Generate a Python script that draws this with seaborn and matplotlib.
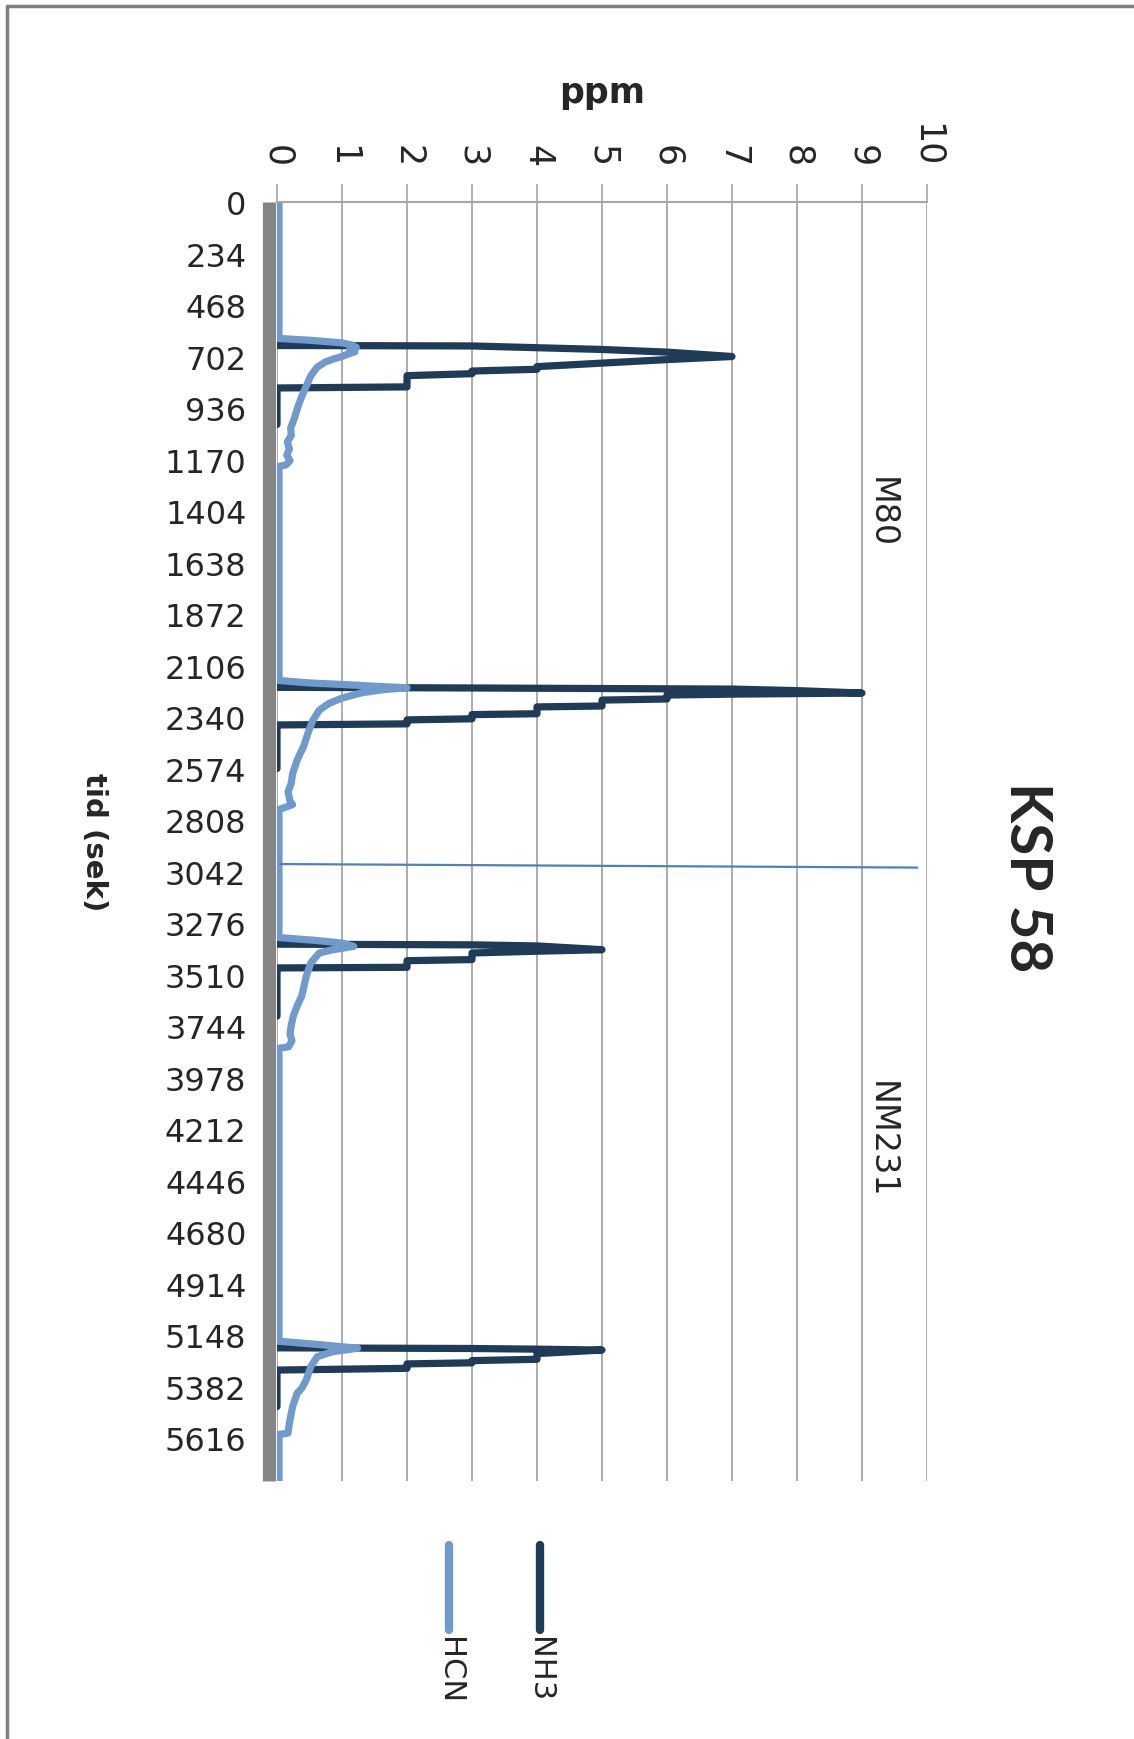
import matplotlib
matplotlib.use("Agg")
import matplotlib.pyplot as plt
from matplotlib.lines import Line2D
import pandas as pd
import seaborn as sns

# ---- data -------------------------------------------------------------
# NH3 bursts (separate measurement windows around each test)
nh3_burst = [1] * 16 + [2] * 18 + [3] * 11 + [4] * 12
nh3_time = [652, 654, 662, 670, 682, 702, 716, 732, 748, 760, 768, 780, 789, 840, 845, 1011,
            2205, 2208, 2213, 2220, 2231, 2236, 2240, 2258, 2263, 2290, 2294, 2325, 2329, 2348,
            2353, 2371, 2376, 2574,
            3372, 3375, 3380, 3397, 3404, 3412, 3442, 3447, 3477, 3480, 3699,
            5206, 5209, 5212, 5216, 5232, 5258, 5264, 5274, 5279, 5299, 5307, 5473]
nh3_ppm = [0, 3, 4, 5, 6, 7, 6, 5, 4, 4, 3, 3, 2, 2, 0, 0,
           0, 3, 7, 8, 9, 7, 6, 6, 5, 5, 4, 4, 3, 3, 2, 2, 0, 0,
           0, 3, 4, 5, 4, 3, 3, 2, 2, 0, 0,
           0, 3, 4, 5, 4, 4, 3, 3, 2, 2, 0, 0]

hcn_time = [0, 620, 628, 640, 650, 660, 670, 680, 692, 702, 712, 726, 750, 789, 837, 884, 932,
            980, 1027, 1060, 1090, 1122, 1150, 1175, 1194, 1202,
            2174, 2185, 2192, 2200, 2207, 2215, 2230, 2254, 2278, 2309, 2356, 2410, 2473, 2535,
            2597, 2640, 2680, 2722, 2738, 2753, 2760,
            3342, 3355, 3367, 3382, 3397, 3412, 3457, 3518, 3608, 3653, 3699, 3740, 3780, 3810,
            3838, 3845,
            5176, 5190, 5201, 5208, 5223, 5246, 5291, 5352, 5390, 5412, 5473, 5533, 5570, 5593,
            5600, 5811]
hcn_ppm = [0.03, 0.03, 0.5, 1.0, 1.15, 1.22, 1.12, 1.2, 1.08, 1.0, 0.88, 0.75, 0.62, 0.52, 0.45,
           0.38, 0.32, 0.27, 0.21, 0.22, 0.16, 0.19, 0.15, 0.2, 0.14, 0.03,
           0.03, 0.5, 1.0, 1.5, 2.0, 1.65, 1.3, 1.0, 0.8, 0.65, 0.55, 0.48, 0.41, 0.31, 0.24,
           0.22, 0.17, 0.2, 0.24, 0.1, 0.03,
           0.03, 0.6, 1.0, 1.18, 0.86, 0.65, 0.52, 0.45, 0.38, 0.31, 0.25, 0.22, 0.2, 0.23,
           0.18, 0.03,
           0.03, 0.6, 1.0, 1.24, 0.86, 0.62, 0.52, 0.45, 0.38, 0.31, 0.24, 0.2, 0.18, 0.17,
           0.03, 0.03]

# divider between the two sample series
sep_ppm = [0.05, 9.85]
sep_time = [3008, 3024]

ppm_ticks = [0, 1, 2, 3, 4, 5, 6, 7, 8, 9, 10]
time_ticks = [0, 234, 468, 702, 936, 1170, 1404, 1638, 1872, 2106, 2340, 2574, 2808,
              3042, 3276, 3510, 3744, 3978, 4212, 4446, 4680, 4914, 5148, 5382, 5616]

sample_labels = ["M80", "NM231"]
sample_label_time = [1408, 4257]

NH3_COLOR = "#1F3B58"
HCN_COLOR = "#709ACB"
GRID = "#A6A6A6"

# ---- figure -----------------------------------------------------------
sns.set_style("white")
plt.rcParams["font.family"] = ["DejaVu Sans"]

W, H = 1134, 1740
fig = plt.figure(figsize=(W / 100, H / 100), dpi=100)


def fx(px):
    return px / W


def fy(py):
    return 1 - py / H


ax = fig.add_axes([fx(277), fy(1482), fx(927) - fx(277), fy(203) - fy(1482)])

# axis frame first (moving a spine rebuilds the ticks)
for side in ["right", "bottom"]:
    ax.spines[side].set_visible(False)
ax.spines["top"].set_color(GRID)
ax.spines["top"].set_linewidth(1.5)
ax.spines["left"].set_color("#858585")
ax.spines["left"].set_linewidth(9.5)
ax.spines["left"].set_position(("outward", 6))
ax.spines["left"].set_capstyle("butt")

nh3 = pd.DataFrame({"burst": nh3_burst, "tid": nh3_time, "ppm": nh3_ppm})
hcn = pd.DataFrame({"tid": hcn_time, "ppm": hcn_ppm})

sns.lineplot(data=nh3, x="ppm", y="tid", units="burst", estimator=None, sort=False,
             color=NH3_COLOR, lw=5.2, ax=ax, solid_joinstyle="round", solid_capstyle="round")
sns.lineplot(data=hcn, x="ppm", y="tid", estimator=None, sort=False,
             color=HCN_COLOR, lw=5.2, ax=ax, solid_joinstyle="round", solid_capstyle="round")
ax.plot(sep_ppm, sep_time, color="#4F81BD", lw=1.6, zorder=3)

ax.set_xlim(0, 10)
ax.set_ylim(5811, 0)
ax.set_xlabel("")
ax.set_ylabel("")

ax.set_xticks(ppm_ticks, [str(v) for v in ppm_ticks])
ax.set_yticks(time_ticks, [str(v) for v in time_ticks])
ax.xaxis.set_tick_params(which="major", top=True, bottom=False, labeltop=True,
                         labelbottom=False, length=13, width=1.2, color=GRID, pad=13,
                         labelsize=25, labelrotation=270)
ax.yaxis.set_tick_params(which="major", left=True, length=0, pad=16, labelsize=23)

ax.grid(axis="x", color=GRID, lw=1.3)
ax.grid(axis="y", visible=False)

for lab, t in zip(sample_labels, sample_label_time):
    ax.text(9.3, t, lab, rotation=270, ha="center", va="center", fontsize=24)

# titles
fig.text(fx(602), fy(93), "ppm", ha="center", va="center", fontsize=25, fontweight="bold")
fig.text(fx(94), fy(842), "tid (sek)", ha="center", va="center", rotation=270,
         fontsize=21, fontweight="bold")
fig.text(fx(1026), fy(877), "KSP 58", ha="center", va="center", rotation=270,
         fontsize=42, fontweight="bold", family=["Lato", "DejaVu Sans"])

# legend (rotated layout)
for name, color, xpos in [("NH3", NH3_COLOR, 540), ("HCN", HCN_COLOR, 449)]:
    fig.add_artist(Line2D([fx(xpos), fx(xpos)], [fy(1546), fy(1631)], color=color, lw=6,
                          solid_capstyle="round", transform=fig.transFigure))
    fig.text(fx(xpos), fy(1637), name, rotation=270, ha="center", va="top", fontsize=22)

# outer frame edges
fig.add_artist(Line2D([fx(7), fx(W)], [fy(7), fy(7)], color="#808080", lw=2.5,
                      transform=fig.transFigure))
fig.add_artist(Line2D([fx(7), fx(7)], [fy(7), fy(H)], color="#808080", lw=2.5,
                      transform=fig.transFigure))

fig.savefig("out.png", dpi=100)
